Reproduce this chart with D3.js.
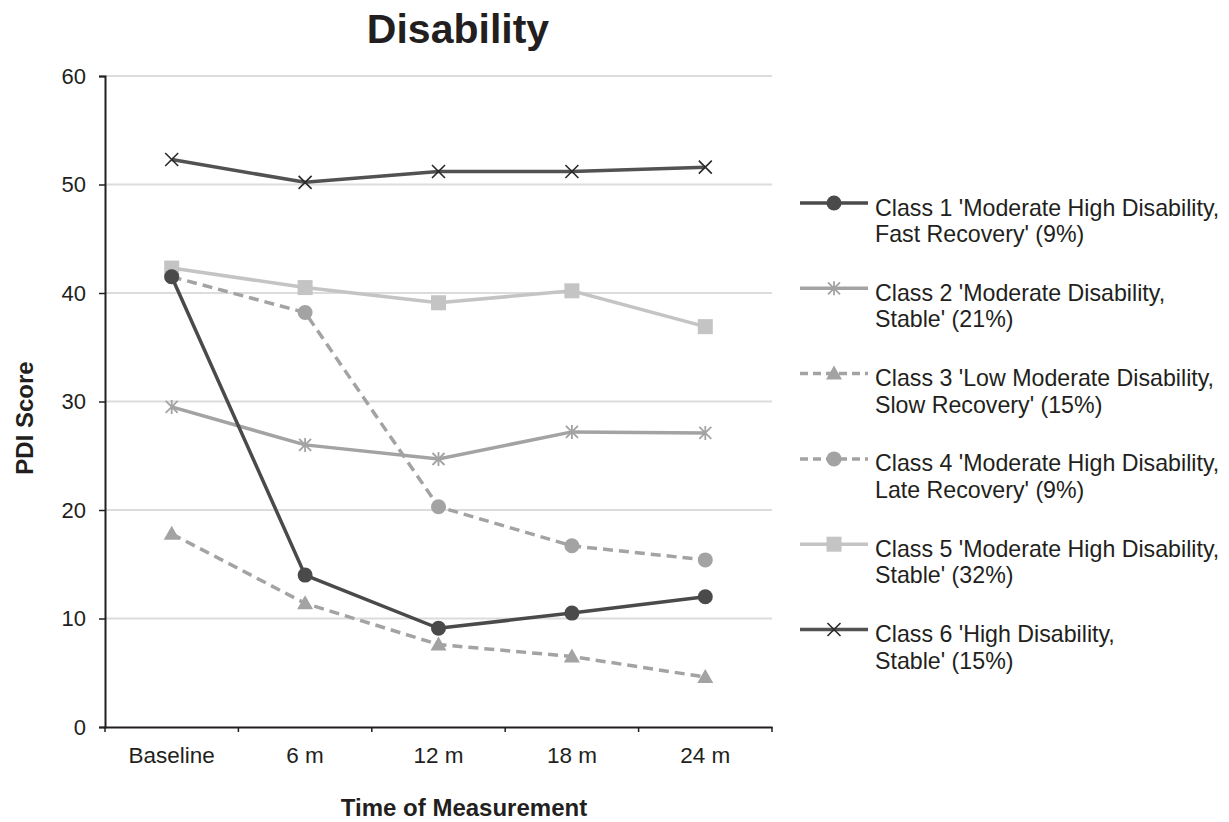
<!DOCTYPE html>
<html><head><meta charset="utf-8">
<script src="https://cdn.jsdelivr.net/npm/d3@7"></script>
<style>body{margin:0;background:#fff;} text{font-family:"Liberation Sans",Arial,sans-serif;fill:#231f20;}</style>
</head><body>
<svg id="c" width="1229" height="822"></svg>
<script>
const categories = ["Baseline","6 m","12 m","18 m","24 m"];
const yTicks = [0,10,20,30,40,50,60];
const class1 = [41.5,14.0,9.1,10.5,12.0];
const class2 = [29.5,26.0,24.7,27.2,27.1];
const class3 = [17.8,11.4,7.6,6.5,4.6];
const class4 = [41.5,38.2,20.3,16.7,15.4];
const class5 = [42.3,40.5,39.1,40.2,36.9];
const class6 = [52.3,50.2,51.2,51.2,51.6];
const seriesNames = [
 ["Class 1 'Moderate High Disability,","Fast Recovery' (9%)"],
 ["Class 2 'Moderate Disability,","Stable' (21%)"],
 ["Class 3 'Low Moderate Disability,","Slow Recovery' (15%)"],
 ["Class 4 'Moderate High Disability,","Late Recovery' (9%)"],
 ["Class 5 'Moderate High Disability,","Stable' (32%)"],
 ["Class 6 'High Disability,","Stable' (15%)"]
];
const seriesValues = [class1,class2,class3,class4,class5,class6];
const styles = [
 {color:"#4a4a4a", dash:null, marker:"circle"},
 {color:"#a3a3a3", dash:null, marker:"star"},
 {color:"#a3a3a3", dash:"10,6", marker:"triangle"},
 {color:"#a3a3a3", dash:"10,6", marker:"circle"},
 {color:"#c4c4c4", dash:null, marker:"square"},
 {color:"#525252", dash:null, marker:"x"}
];
const drawOrder = [4,5,1,3,2,0];

const svg = d3.select("#c");
const L=105,R=772,T=76,B=727;
const x = d3.scaleBand().domain(categories).range([L,R]);
const y = d3.scaleLinear().domain([0,60]).range([B,T]);

// grid
svg.append("g").selectAll("line").data(yTicks.filter(d=>d>0)).join("line")
 .attr("x1",L).attr("x2",R).attr("y1",d=>y(d)).attr("y2",d=>y(d))
 .attr("stroke","#dcdcdc").attr("stroke-width",2);

// axes
const yAxis = svg.append("g").attr("transform",`translate(${L},0)`)
 .call(d3.axisLeft(y).tickValues(yTicks).tickSize(6).tickPadding(13));
const xAxis = svg.append("g").attr("transform",`translate(0,${B})`)
 .call(d3.axisBottom(x).tickSize(0).tickPadding(20));
[yAxis,xAxis].forEach(a=>{
 a.select(".domain").attr("stroke","#231f20").attr("stroke-width",2);
 a.selectAll(".tick line").attr("stroke","#231f20").attr("stroke-width",1.5);
 a.selectAll("text").style("font-family","Liberation Sans, Arial, sans-serif").attr("fill","#231f20");
});
yAxis.selectAll("text").style("font-size","22px");
xAxis.selectAll("text").style("font-size","22.5px");
// x ticks at band edges
svg.append("g").selectAll("line").data(categories.concat(["end"])).join("line")
 .attr("x1",(d,i)=> i<categories.length? x(d): R).attr("x2",(d,i)=> i<categories.length? x(d): R)
 .attr("y1",B).attr("y2",B+5).attr("stroke","#231f20").attr("stroke-width",1.5);

function marker(g, type, cx, cy, color){
 if(type==="circle") g.append("circle").attr("cx",cx).attr("cy",cy).attr("r",7.5).attr("fill",color);
 else if(type==="square") g.append("rect").attr("x",cx-7.5).attr("y",cy-7.5).attr("width",15).attr("height",15).attr("fill",color);
 else if(type==="triangle") g.append("path").attr("d",`M${cx},${cy-8}L${cx+8},${cy+6}L${cx-8},${cy+6}Z`).attr("fill",color);
 else if(type==="x") g.append("path").attr("d",`M${cx-6.5},${cy-6.5}L${cx+6.5},${cy+6.5}M${cx-6.5},${cy+6.5}L${cx+6.5},${cy-6.5}`).attr("stroke","#2a2a2a").attr("stroke-width",1.6);
 else if(type==="star") g.append("path").attr("d",`M${cx-6},${cy-6}L${cx+6},${cy+6}M${cx-6},${cy+6}L${cx+6},${cy-6}M${cx},${cy-7}L${cx},${cy+7}`).attr("stroke",color).attr("stroke-width",1.8);
}

const line = d3.line().x((d,i)=>x(categories[i])+x.bandwidth()/2).y(d=>y(d));
drawOrder.forEach(si=>{
 const s=styles[si], g=svg.append("g");
 g.append("path").attr("d",line(seriesValues[si])).attr("fill","none")
  .attr("stroke",s.color).attr("stroke-width",3.5).attr("stroke-dasharray",s.dash);
 seriesValues[si].forEach((v,i)=>marker(g,s.marker,x(categories[i])+x.bandwidth()/2,y(v),s.color));
});

// titles
svg.append("text").attr("x",458).attr("y",43).attr("text-anchor","middle")
 .style("font-size","41px").style("font-weight","bold").text("Disability");
svg.append("text").attr("x",464).attr("y",816).attr("text-anchor","middle")
 .style("font-size","24px").style("font-weight","bold").text("Time of Measurement");
svg.append("text").attr("transform","translate(33,418) rotate(-90)").attr("text-anchor","middle")
 .style("font-size","24px").style("font-weight","bold").text("PDI Score");

// legend
const lg = svg.append("g");
seriesNames.forEach((nm,i)=>{
 const cy = 203 + i*85.3, s=styles[i];
 lg.append("line").attr("x1",800).attr("x2",868).attr("y1",cy).attr("y2",cy)
  .attr("stroke",s.color).attr("stroke-width",3.5).attr("stroke-dasharray",s.dash?"8,5":null);
 marker(lg,s.marker,834,cy,s.color);
 const t = lg.append("text").attr("x",875).attr("y",cy+12.5).style("font-size","23.2px");
 t.append("tspan").attr("x",875).text(nm[0]);
 t.append("tspan").attr("x",875).attr("dy",26.5).text(nm[1]);
});
</script>
</body></html>
